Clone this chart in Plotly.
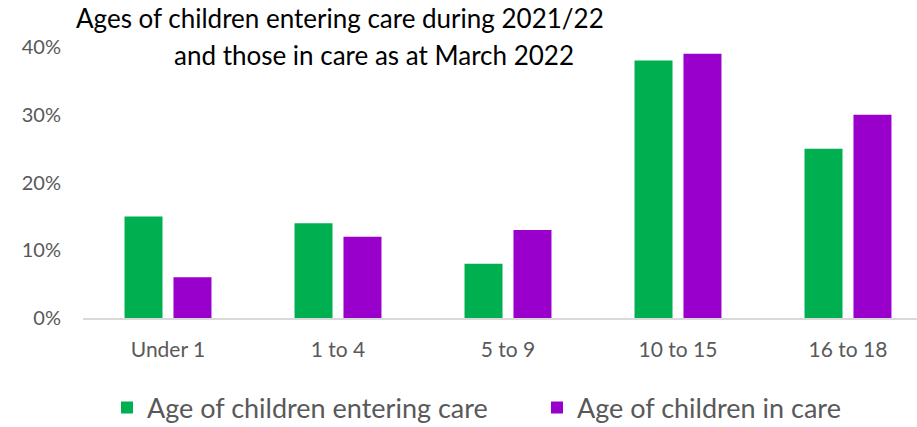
import plotly.graph_objects as go

categories = ["Under 1", "1 to 4", "5 to 9", "10 to 15", "16 to 18"]
entering_care = [0.15, 0.14, 0.08, 0.38, 0.25]
in_care = [0.06, 0.12, 0.13, 0.39, 0.30]
y_ticks = [0, 0.1, 0.2, 0.3, 0.4]
y_tick_labels = ["0%", "10%", "20%", "30%", "40%"]
title_lines = ["Ages of children entering care during 2021/22",
               "and those in care as at March 2022"]

GREEN = "#00B050"
PURPLE = "#9900CC"
GREY = "#595959"
FONT = "Lato"

W, H = 917, 427
L, T, B = 83, 47, 109
plot_w, plot_h = W - L, H - T - B


def px_x(x):
    return (x - L) / plot_w


def px_y(y):
    return (H - B - y) / plot_h


fig = go.Figure()
fig.add_trace(go.Bar(name="Age of children entering care", x=categories, y=entering_care,
                     marker=dict(color=GREEN, line=dict(width=0)), legend="legend"))
fig.add_trace(go.Bar(name="Age of children in care", x=categories, y=in_care,
                     marker=dict(color=PURPLE, line=dict(width=0)), legend="legend2"))

legend_common = dict(yref="container", y=1 - 408 / H, yanchor="middle", xanchor="left",
                     font=dict(size=27, color=GREY, family=FONT), bgcolor="rgba(0,0,0,0)",
                     borderwidth=0)

fig.update_layout(
    width=W, height=H,
    margin=dict(l=L, r=0, t=T, b=B, autoexpand=False),
    paper_bgcolor="white", plot_bgcolor="white",
    barmode="group", bargap=0.424, bargroupgap=0.224,
    font=dict(family=FONT, color=GREY),
    showlegend=True,
    legend=dict(x=px_x(107), **legend_common),
    legend2=dict(x=px_x(537), **legend_common),
    xaxis=dict(range=[-0.5, 4.406], showgrid=False, showline=True, linecolor="#D9D9D9",
               linewidth=1.5, ticks="", ticklabelstandoff=12, automargin=False,
               tickfont=dict(size=21, color=GREY)),
    yaxis=dict(range=[0, 0.40], tickvals=y_ticks, ticktext=y_tick_labels, showgrid=False,
               zeroline=False, showline=False, ticks="", ticklabelstandoff=21, automargin=False,
               tickfont=dict(size=20, color=GREY)),
    annotations=[
        dict(text=title_lines[0], xref="paper", yref="paper", x=px_x(340), y=px_y(0),
             xanchor="center", yanchor="top", showarrow=False,
             font=dict(family=FONT, size=26, color="black")),
        dict(text=title_lines[1], xref="paper", yref="paper", x=px_x(374), y=px_y(37),
             xanchor="center", yanchor="top", showarrow=False,
             font=dict(family=FONT, size=26, color="black")),
    ],
)

fig.write_html("out.html")
